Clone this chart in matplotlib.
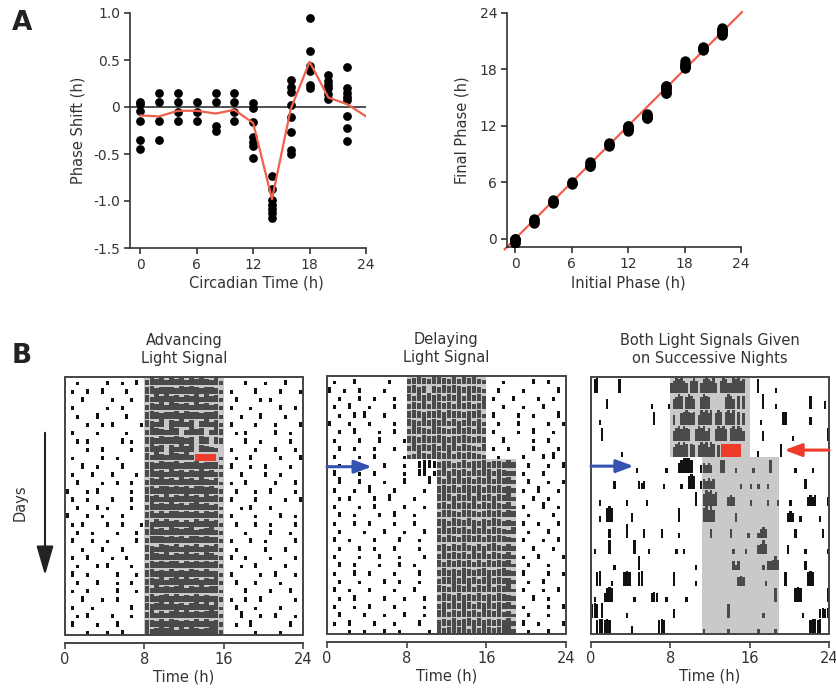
import matplotlib
matplotlib.use("Agg")
import matplotlib.pyplot as plt
from matplotlib.patches import Rectangle, FancyArrowPatch

plt.rcParams['font.family'] = ['DejaVu Sans']
plt.rcParams['axes.unicode_minus'] = False

INK = '#333333'
SHADE = '#c9c9c9'
DARK = '#4a4a4a'
BLACK = '#111111'
RED_LINE = '#f0604c'
RED = '#ee3b2a'
BLUE = '#3452b0'

# ---------------- panel A: phase response ----------------
ct_groups = [0, 2, 4, 6, 8, 10, 12, 14, 16, 18, 20, 22]
phase_shifts = [
    [0.05, 0.03, -0.04, -0.15, -0.35, -0.45],
    [0.15, 0.05, -0.15, -0.35],
    [0.15, 0.05, -0.05, -0.15],
    [0.05, -0.05, -0.15],
    [0.15, 0.05, -0.20, -0.25],
    [0.15, 0.05, -0.05, -0.15],
    [0.04, -0.01, -0.16, -0.32, -0.37, -0.41, -0.54],
    [-0.73, -0.87, -0.99, -1.04, -1.08, -1.13, -1.18],
    [0.29, 0.21, 0.16, 0.02, -0.11, -0.27, -0.46, -0.50],
    [0.95, 0.60, 0.44, 0.38, 0.23, 0.20],
    [0.34, 0.28, 0.23, 0.20, 0.14, 0.08],
    [0.43, 0.20, 0.15, 0.11, 0.07, -0.10, -0.22, -0.36],
]
mean_ct = [0, 2, 4, 6, 8, 10, 12, 14, 16, 18, 20, 22, 24]
mean_shift = [-0.09, -0.10, -0.04, -0.04, -0.07, -0.03, -0.17, -0.98, -0.02, 0.48, 0.10, 0.03, -0.10]
identity_line = [-1.1, 24.1]

# ---------------- panel B: actograms ----------------
# one string per day, each digit = activity height (of 9) in a time bin, '.' = none
advance_rows = [
    "..4.....5..4..6. 6878697868797685 ....5...4...6...",
    ".4..5..6....5... 7968786979868764 .4....6....5...4",
    "...6.....4...4.. 8697978687969785 ..6....4.5......",
    ".5......4..5.... 6879698786978675 .5...4.....6..5.",
    "..4...6.....5... 7986879697868794 ...4...6....4...",
    "....4..5.6.....4 8769.87968.79684 .6....5...4....6",
    ".5....4.....4... 6987698.6978.697 ..4.5.....6..4..",
    "..5.5......6.4.. 7869879768.98.76 ....6..4.....5..",
    "....4..6.....5.. 6978.86979.8765. .5....4...6...4.",
    ".4.....5..4..... 8697698796.....4 ..4..6.....5...6",
    "...6..4....6.... 7869789687968774 .6...4..5....4..",
    ".4...5...6....4. 8978697868797865 ...5....6..4....",
    "..6....4..5..5.. 6879786978697684 .4..6.....5...6.",
    "5...4.6......4.. 7968979786987965 ..5...4..6....4.",
    ".6..4....5...6.. 8786968797869785 .6....5.....4..6",
    "..5...6.4....5.. 6978797868978674 ...4.6...5......",
    "6...5..4...5.... 7869689797868795 .5....4....6..4.",
    ".4.6....5..6...4 8697978686979784 ..6...5..4....5.",
    "..5..4....4...5. 7978698789678965 ....4....6...4..",
    ".6...5..4.....6. 6889797868978775 .5...6..4.....6.",
    "...4...5...6.... 8769879687968794 ..4.....5...6...",
    ".5..6....4..5... 7987968797869865 .6..5....4....5.",
    "..4...5.6....4.. 6879798687978785 ...4..6.....5...",
    ".6..4.....5...4. 8968797869879674 .5.....4..6...4.",
    "..5...6...4..5.. 7879689797868795 ..6...5....4....",
    ".4..5.....6...4. 8697878968797884 ....6....5...6..",
    "...6...4..5..... 6978969787968775 .4..5..6......4.",
    ".5...4.......6.. 8789797868979694 ..6...4....5....",
    "..4.6....5...4.. 7968689797878985 ...8...5..6...4.",
    ".6....4...6..... 8879798687969785 ..4..8.......6..",
    "....5...4..6.... 9789896979878996 ......4....5....",
]
delay_rows = [
    ".4...6......5... 6787698768697865 ...4.....6..5...",
    "6..4..5....4.... 7968.86979868764 ..5....4......6.",
    "..4...6..5...4.. 8697978687969786 .4...6....4..5..",
    ".5..7...4....6.. 6879698786978679 ...5...4...6....",
    "..4..6.7...5.... 7986879697868794 .6....5..4....7.",
    "6...4...5....4.. 8769787968679685 ..4...6.....5..4",
    "..5..7....4..6.. 6987698767978697 .5....4..7...4..",
    ".4....5...6....4 7869879768798676 ...6.....4..5...",
    "..6..4...5...4.. 6978786979687658 .4..5....6....4.",
    ".5....4..6.....4 5697698796878765 ..4....5...6.8..",
    "..4..6.....5...4..7998 6785696879687696 ..5...4..6",
    ".7....4..5.....4..89.5 7968786979868765 .4...6....",
    "..8...6....4...7....9. 8697978687969785 ..6...4..5",
    ".5...4..8....5.....4.. 7879698786978675 .4..7...4.",
    "..4.6....5..8....4.... 8986879697868794 ...6..4...",
    ".5....4..6.....5...4.. 7869787968797684 .5...8..4.",
    "..6..4....5..7...4.... 6987698767978697 ..4....5..",
    ".4...5..6....4...5.... 8869879768798676 .6..4...5.",
    "..5....4...6...4...6.. 7978786979687658 ..4...6...",
    ".6..4....5....6...4... 8697698796878765 .5...4..6.",
    "..4...6..4...5....4... 7868797686897586 ...5...4..",
    ".5....4...6...4....5.. 6978786979687685 .4..6....5",
    "..6..5....4...6..4.... 8697978686979784 ..5...4...",
    ".4...6..5....4....6... 7978698789678965 .6....5..4",
    "..5...4....6..5...4... 6889797868978775 ..4..6....",
    ".6..4...5....4...6.... 8769879687968794 .5...4..6.",
    "..4..6.....5...4...5.. 7987968797869865 ...6..4...",
    ".5...4..6....5.....4.. 6879798687978785 .4....5..6",
    "..6....5...4...6...4.. 8968797869879674 ..5...4...",
    ".4..6....5...4....6... 7879689797868795 .6..4....5",
    "....5..4...6..5.....4. 9789896979878996 ..4...6...",
]
both_rows = [
    ".89..... ...8.... ........ ........ 6798976. 797.6898 796.7986 698978.. ...8.... ..3..... ........ ........",
    "......6. ........ ........ 3......3 .6798.79 86..7987 ......79 86.8.8.. .....9.. ..3..... ........ 8.....5.",
    "...3.... ........ ........ .8...... .6..7898 78.69897 9.798.89 79.8.7.. ....3... .....88. ........ 5.......",
    "....8... ........ ........ ........ .6897987 ..798968 ..79897. 897986.. .....6.. ........ .3...... .......8",
    "........ ....3... ........ ........ .689798. 87.79896 98.7.... ........ ...4.... ....8... ........ ........",
    "........ ........ ..3..... ......3. ...68999 8...5656 5...88.. ..3..... .3...... 8....... ..3..... .3......",
    "........ .5...... ...545.. .....3.. ....3..8 98..5657 56...... ....3... 3..3...3 ........ ......6. ........",
    "...3.... ......3. ......3. ........ ........ ..8..798 978....5 65...... 3......3 ...3.... 3......5 656....5",
    "...3..89 8....... 5....... ........ ...8.... .....897 97...... ..5..... ........ .......5 65..3... ....3...",
    ".......5 ......8. .....5.. ....5... ...3.... ........ 5....... 5......3 ...3565. ........ ..5..... .....5..",
    ".3.....8 ........ .8.....3 ........ ..3..3.. ........ ........ .3....3. ...5686. .......5 ......3. .......3",
    "........ .3...... ...8.... ........ ........ ..3..... ........ .535.... .....3.5 5686.... ......5. ........",
    "..89.... 3....898 ...89... ........ .8...... ..3..... ........ ...565.. ......3. ......8. .......8 98......",
    ".3...589 8....... .3...... 565...3. ......3. ........ ........ ........ ........ ..8..... ..898... .......8",
    "898.9... ......3. ........ ........ .5...... ........ .......8 ........ .....3.. ........ .....3.. ....5656",
    "..899898 ........ 5....... ...898.. ........ .....3.. .......3 ........ ...3.... ..3..... ........ 89989...",
]
# light-gated windows: (first day, last day + 1, start h, end h)
advance_light = [(0, 31, 8, 16)]
delay_light = [(0, 10, 8, 16), (10, 31, 11, 19)]
both_light = [(0, 5, 8, 16), (5, 16, 11.2, 19)]
time_ticks = [0, 8, 16, 24]


def draw_actogram(ax, rows, bins_per_hour, bar_frac, light, dot_frac):
    n = len(rows)
    nb = 24 * bins_per_hour
    bw = 1.0 / bins_per_hour
    for r0, r1, t0, t1 in light:
        ax.add_patch(Rectangle((t0, r0), t1 - t0, r1 - r0, facecolor=SHADE,
                               edgecolor='none', zorder=1))
    xs, ws, hs, bs, cs = [], [], [], [], []
    for i, row in enumerate(rows):
        row = row.replace(' ', '').ljust(nb, '.')[:nb]
        for k, ch in enumerate(row):
            if ch == '.':
                continue
            h = int(ch) / 9 * 0.95
            t = k * bw
            lit = any(r0 <= i < r1 and t0 <= t + bw / 2 < t1 for r0, r1, t0, t1 in light)
            frac = bar_frac if lit else dot_frac
            xs.append(t + bw * (1 - frac) / 2)
            ws.append(bw * frac)
            hs.append(h)
            bs.append(i + 1 - h)
            cs.append(DARK if lit else BLACK)
    ax.bar(xs, hs, width=ws, bottom=bs, color=cs, align='edge',
           linewidth=0, zorder=2)
    ax.set_xlim(0, 24)
    ax.set_ylim(n, 0)
    for s in ['top', 'right', 'left']:
        ax.spines[s].set_visible(False)
    ax.spines['bottom'].set_position(('outward', 6))
    ax.spines['bottom'].set_color('#444444')
    ax.spines['bottom'].set_linewidth(1.4)
    ax.set_yticks([])
    ax.set_xticks(time_ticks)
    ax.tick_params(axis='x', direction='out', length=4, width=1.2, color='#444444',
                   labelsize=10.5, labelcolor=INK, pad=2)
    ax.add_patch(Rectangle((0, 0), 1, 1, transform=ax.transAxes, fill=False,
                           lw=1.4, edgecolor='#444444', clip_on=False, zorder=5))
    ax.set_xlabel('Time (h)', fontsize=10.5, color=INK, labelpad=2)


def style_a(ax):
    for s in ['top', 'right']:
        ax.spines[s].set_visible(False)
    for s in ['left', 'bottom']:
        ax.spines[s].set_color(INK)
        ax.spines[s].set_linewidth(1.2)
    ax.tick_params(direction='out', length=4, width=1.2, color=INK,
                   labelsize=10, labelcolor=INK, pad=3)


fig = plt.figure(figsize=(8.37, 6.94), dpi=100)

# A left
ax1 = fig.add_axes([130 / 837, 1 - 248 / 694, 236 / 837, 235 / 694])
for ct, vals in zip(ct_groups, phase_shifts):
    ax1.plot([ct] * len(vals), vals, 'o', color='black', ms=6.3, mew=0, zorder=3)
ax1.axhline(0, color=INK, lw=1.2, zorder=1)
ax1.plot(mean_ct, mean_shift, color=RED_LINE, lw=1.6, zorder=4)
ax1.set_xlim(-1.1, 24)
ax1.set_ylim(-1.5, 1.0)
ax1.set_xticks([0, 6, 12, 18, 24])
ax1.set_yticks([-1.5, -1.0, -0.5, 0, 0.5, 1.0])
ax1.set_yticklabels(['-1.5', '-1.0', '-0.5', '0', '0.5', '1.0'])
style_a(ax1)
ax1.set_xlabel('Circadian Time (h)', fontsize=10.5, color=INK)
ax1.set_ylabel('Phase Shift (h)', fontsize=10.5, color=INK)
ax1.xaxis.set_label_coords(0.534, -0.115)
ax1.yaxis.set_label_coords(-0.19, 0.5)

# A right
ax2 = fig.add_axes([507 / 837, 1 - 247 / 694, 234 / 837, 234 / 694])
for ct, vals in zip(ct_groups, phase_shifts):
    finals = [ct + v for v in vals]
    ax2.plot([ct] * len(finals), finals, 'o', color='black', ms=7.5, mew=0, zorder=3)
ax2.plot(identity_line, identity_line, color=RED_LINE, lw=1.6, zorder=2, clip_on=False)
ax2.set_xlim(-0.85, 24)
ax2.set_ylim(-0.85, 24)
ax2.set_xticks([0, 6, 12, 18, 24])
ax2.set_yticks([0, 6, 12, 18, 24])
style_a(ax2)
ax2.set_xlabel('Initial Phase (h)', fontsize=10.5, color=INK)
ax2.set_ylabel('Final Phase (h)', fontsize=10.5, color=INK)
ax2.xaxis.set_label_coords(0.52, -0.12)
ax2.yaxis.set_label_coords(-0.16, 0.5)

# B actograms
b1 = fig.add_axes([65 / 837, 1 - 635 / 694, 238 / 837, 258 / 694])
b2 = fig.add_axes([327 / 837, 1 - 634 / 694, 239 / 837, 258 / 694])
b3 = fig.add_axes([591 / 837, 1 - 634 / 694, 238 / 837, 257 / 694])
draw_actogram(b1, advance_rows, 2, 0.9, advance_light, 0.6)
draw_actogram(b2, delay_rows, 2, 0.9, delay_light, 0.6)
draw_actogram(b3, both_rows, 4, 1.0, both_light, 0.9)

b1.add_patch(Rectangle((13.1, 9.2), 2.1, 0.95, facecolor=RED, edgecolor='none', zorder=4))
b3.add_patch(Rectangle((13.1, 4.2), 2.0, 0.8, facecolor=RED, edgecolor='none', zorder=4))

arrow_kw = dict(arrowstyle='-|>,head_length=0.8,head_width=0.3', lw=2.2,
                shrinkA=0, shrinkB=0, mutation_scale=13)
b2.annotate('', xy=(4.5, 10.9), xytext=(0, 10.9),
            arrowprops=dict(color=BLUE, **arrow_kw), annotation_clip=False, zorder=6)
b3.annotate('', xy=(4.3, 5.55), xytext=(0, 5.55),
            arrowprops=dict(color=BLUE, **arrow_kw), annotation_clip=False, zorder=6)
b3.annotate('', xy=(19.5, 4.55), xytext=(24, 4.55),
            arrowprops=dict(color=RED, **arrow_kw), annotation_clip=False, zorder=6)

titles = ['Advancing\nLight Signal', 'Delaying\nLight Signal',
          'Both Light Signals Given\non Successive Nights']
for ax, t in zip([b1, b2, b3], titles):
    ax.set_title(t, fontsize=10.5, color=INK, pad=10, linespacing=1.3)

# Days label and arrow
fig.text(20 / 837, 1 - 503 / 694, 'Days', rotation=90, ha='center', va='center',
         fontsize=10.5, color=INK)
fig.add_artist(FancyArrowPatch(
    (45 / 837, 1 - 430 / 694), (45 / 837, 1 - 578 / 694),
    transform=fig.transFigure, arrowstyle='-|>,head_length=1.2,head_width=0.35',
    mutation_scale=15, lw=1.5, color='#222222'))

# panel letters
letter_font = ['Liberation Sans Narrow', 'DejaVu Sans']
fig.text(12 / 837, 1 - 10 / 694, 'A', fontsize=19, fontweight='bold', ha='left', va='top',
         color='#222222', family=letter_font)
fig.text(12 / 837, 1 - 343 / 694, 'B', fontsize=19, fontweight='bold', ha='left', va='top',
         color='#222222', family=letter_font)

fig.savefig('out.png', dpi=100)
